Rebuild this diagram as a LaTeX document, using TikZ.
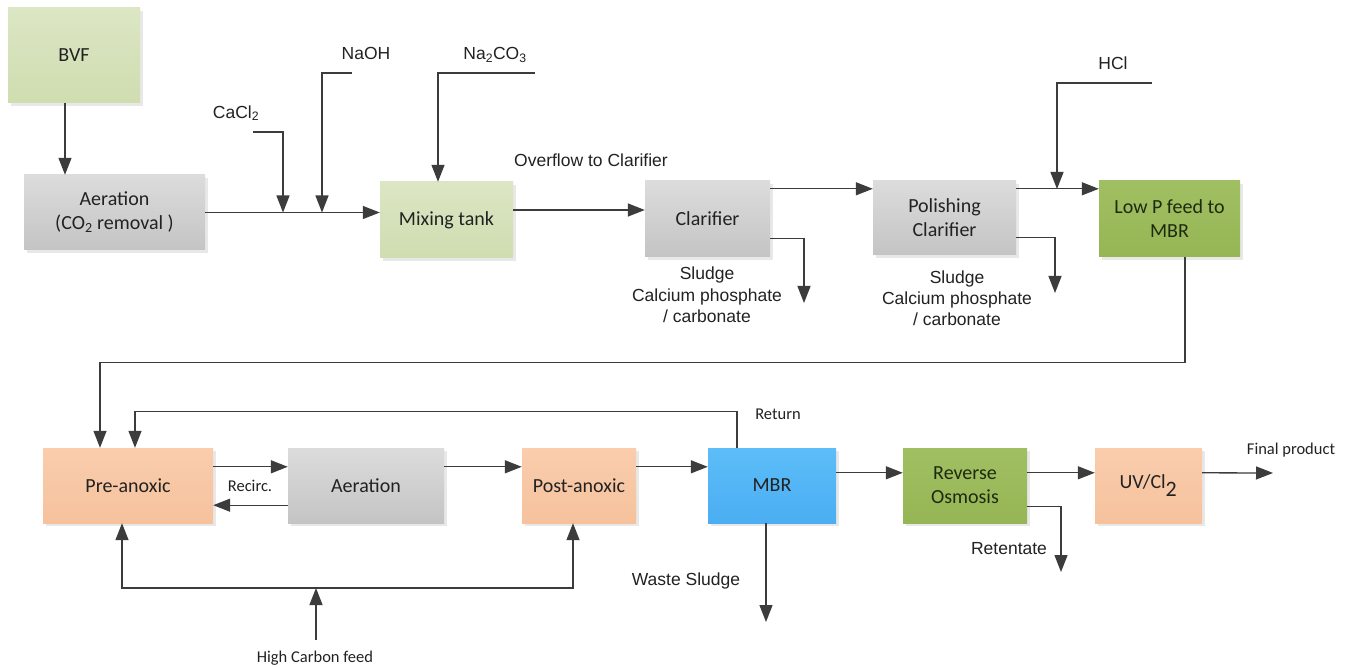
\documentclass[tikz,border=0pt]{standalone}
\usepackage{fontspec}
\setmainfont{Carlito}
\newfontfamily\arialf{Liberation Sans}
\usetikzlibrary{arrows.meta,shadows}
\definecolor{lc}{HTML}{3C3C3C}
\definecolor{txt}{HTML}{222222}
\definecolor{grayT}{HTML}{DCDCDC}
\definecolor{grayB}{HTML}{C4C4C4}
\definecolor{lgT}{HTML}{DCE6C4}
\definecolor{lgB}{HTML}{CFDDB0}
\definecolor{dgT}{HTML}{A0BF62}
\definecolor{dgB}{HTML}{96B655}
\definecolor{orT}{HTML}{FACDAE}
\definecolor{orB}{HTML}{F5C29C}
\definecolor{blT}{HTML}{5CBDF8}
\definecolor{blB}{HTML}{4BAEF2}
\definecolor{dgtxt}{HTML}{1E2A10}
\tikzset{
  box/.style={draw=none, anchor=center, inner sep=2pt, align=center, text=txt,
    font=\fontsize{20}{24}\selectfont,
    drop shadow={opacity=0.18, shadow xshift=3pt, shadow yshift=-3pt}},
  graybox/.style={box, top color=grayT, bottom color=grayB},
  lgbox/.style={box, top color=lgT, bottom color=lgB},
  dgbox/.style={box, top color=dgT, bottom color=dgB, text=dgtxt},
  orbox/.style={box, top color=orT, bottom color=orB},
  blbox/.style={box, top color=blT, bottom color=blB},
  arr/.style={-{Triangle[length=17pt,width=13pt]}, draw=lc, line width=1.3pt},
  lab/.style={font=\arialf\fontsize{17.5}{22}\selectfont, text=txt, align=center},
  clab/.style={font=\fontsize{16.5}{20}\selectfont, text=txt, align=center},
}
\begin{document}
\begin{tikzpicture}[x=1pt,y=-1pt]
\useasboundingbox[fill=white] (0,0) rectangle (1355,668);

% boxes
\node[lgbox, minimum width=132pt, minimum height=95pt] (bvf) at (74,55.5) {BVF};
\node[graybox, minimum width=181pt, minimum height=75pt] (aer1) at (114.5,212.5) {Aeration\\(CO\textsubscript{2} removal )};
\node[lgbox, minimum width=133pt, minimum height=76pt] (mix) at (446.5,220) {Mixing tank};
\node[graybox, minimum width=125pt, minimum height=76pt] (clar) at (707.5,219) {Clarifier};
\node[graybox, minimum width=143pt, minimum height=74pt] (pol) at (944.5,218) {Polishing\\Clarifier};
\node[dgbox, minimum width=141pt, minimum height=76pt] (lowp) at (1169.5,219) {Low P feed to\\MBR};
\node[orbox, minimum width=170pt, minimum height=75pt] (pre) at (128,485.5) {Pre-anoxic};
\node[graybox, minimum width=156pt, minimum height=75pt] (aer2) at (366,485.5) {Aeration};
\node[orbox, minimum width=114pt, minimum height=75pt] (post) at (579,485.5) {Post-anoxic};
\node[blbox, minimum width=128pt, minimum height=75pt] (mbr) at (772,485.5) {MBR};
\node[dgbox, minimum width=124pt, minimum height=75pt] (ro) at (965,485.5) {Reverse\\Osmosis};
\node[orbox, minimum width=107pt, minimum height=75pt] (uv) at (1148.5,485.5) {UV/Cl\textsubscript{\fontsize{22}{24}\selectfont 2}};

% labels
\node[lab] (lcacl) at (236,113) {CaCl\textsubscript{2}};
\node[lab] (lnaoh) at (366,53) {NaOH};
\node[lab] (lna2) at (495,55) {Na\textsubscript{2}CO\textsubscript{3}};
\node[lab] (lover) at (591,160) {Overflow to Clarifier};
\node[lab, font=\arialf\fontsize{17.5}{21.5}\selectfont] (lsl1) at (707,295) {Sludge\\Calcium phosphate\\/ carbonate};
\node[lab, font=\arialf\fontsize{17.5}{21}\selectfont] (lsl2) at (957,298.5) {Sludge\\Calcium phosphate\\/ carbonate};
\node[lab] (lhcl) at (1113,63) {HCl};
\node[clab] (lrec) at (250,486) {Recirc.};
\node[clab] (lret) at (778,414) {Return};
\node[clab] (lhc) at (315,658) {High Carbon feed};
\node[lab] (lws) at (686,581) {Waste Sludge};
\node[lab] (lrt) at (1009,549) {Retentate};
\node[clab] (lfp) at (1291,450) {Final product};

% coordinates
\coordinate (cacl) at (253,132);
\coordinate (j1) at (283,212.5);
\coordinate (naoh) at (352,73);
\coordinate (j2) at (322,212.5);
\coordinate (na2) at (535,73);
\coordinate (hcl) at (1152,83);
\coordinate (j3) at (1057,189);
\coordinate (s1) at (804,303);
\coordinate (s2) at (1055,293);
\coordinate (ws) at (766,622);
\coordinate (ret) at (1061,572);
\coordinate (fin) at (1273,473);
\coordinate (hcf) at (316,640);
\coordinate (hcj) at (316,588);

% top row connectors
\draw[arr] ([xshift=-9pt]bvf.south) -- ([xshift=-9pt]bvf.south |- aer1.north);
\draw[arr] (aer1.east) -- (aer1.east -| mix.west);
\draw[arr] (cacl) -| (j1);
\draw[arr] (naoh) -| (j2);
\draw[arr] (na2) -| ([xshift=-8.5pt]mix.north);
\draw[arr] ([yshift=10pt]mix.east) -- ([yshift=10pt]mix.east -| clar.west);
\draw[arr] ([yshift=-8pt]clar.north east) -- ([yshift=-8pt]clar.north east -| pol.west);
\draw[arr] ([yshift=19pt]clar.south east) -| (s1);
\draw[arr] ([yshift=-8pt]pol.north east) -- ([yshift=-8pt]pol.north east -| lowp.west);
\draw[arr] (hcl) -| (j3);
\draw[arr] ([yshift=18pt]pol.south east) -| (s2);

% link to bottom row
\draw[arr] ([xshift=15.5pt]lowp.south) -- ++(0,105) -| ([xshift=-28pt]pre.north);
\draw[arr] ([xshift=-35pt]mbr.north) -- ++(0,-36) -| ([xshift=7pt]pre.north);

% bottom row connectors
\draw[arr] ([yshift=-19pt]pre.north east) -- ([yshift=-19pt]pre.north east -| aer2.west);
\draw[arr] ([yshift=18pt]aer2.south west) -- ([yshift=18pt]aer2.south west -| pre.east);
\draw[arr] ([yshift=-19pt]aer2.north east) -- ([yshift=-19pt]aer2.north east -| post.west);
\draw[arr] ([yshift=-19pt]post.north east) -- ([yshift=-19pt]post.north east -| mbr.west);
\draw[arr] ([yshift=-25pt]mbr.north east) -- ([yshift=-25pt]mbr.north east -| ro.west);
\draw[arr] ([yshift=-25pt]ro.north east) -- ([yshift=-25pt]ro.north east -| uv.west);
\draw[arr] ([yshift=-25pt]uv.north east) -- (fin);
\draw[arr] ([yshift=17pt]ro.south east) -| (ret);
\draw[arr] ([xshift=-6pt]mbr.south) -- (ws);
\draw[arr] (hcf) -- (hcj);
\draw[arr] (hcj) -| ([xshift=-6pt]pre.south);
\draw[arr] (hcj) -| ([xshift=-6pt]post.south);
\end{tikzpicture}
\end{document}
